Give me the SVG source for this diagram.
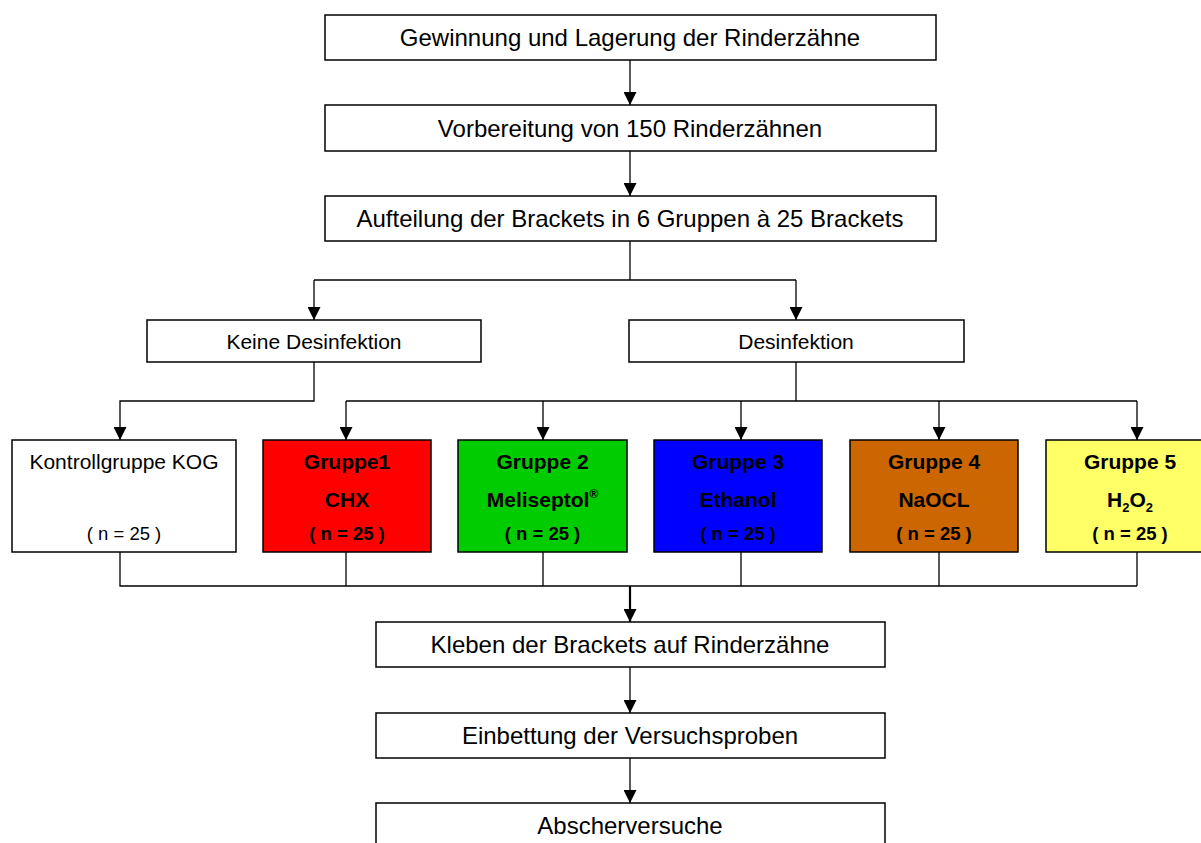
<svg xmlns="http://www.w3.org/2000/svg" width="1201" height="843" viewBox="0 0 1201 843">
<style>
.box{stroke:#000;stroke-width:1.5;fill:#fff}
.t{font-family:"Liberation Sans",Arial,sans-serif;font-size:24px;fill:#000;text-anchor:middle}
.m{font-family:"Liberation Sans",Arial,sans-serif;font-size:21px;fill:#000;text-anchor:middle}
.b{font-family:"Liberation Sans",Arial,sans-serif;font-size:21px;font-weight:bold;fill:#000;text-anchor:middle}
.n{font-family:"Liberation Sans",Arial,sans-serif;font-size:18.5px;fill:#000;text-anchor:middle}
.nb{font-family:"Liberation Sans",Arial,sans-serif;font-size:18.5px;font-weight:bold;fill:#000;text-anchor:middle}
.c{stroke:#000;stroke-width:1.3;fill:none}
</style>
<defs>
<marker id="ah" markerUnits="userSpaceOnUse" markerWidth="13" markerHeight="13" refX="13" refY="6.5" orient="auto">
<path d="M0,0 L13,6.5 L0,13 z" fill="#000"/>
</marker>
</defs>
<rect width="1201" height="843" fill="#fff"/>
<g id="connectors">
<path class="c" d="M630,60 V105" marker-end="url(#ah)"/>
<path class="c" d="M630,151 V196" marker-end="url(#ah)"/>
<path class="c" d="M630,241 V280"/>
<path class="c" d="M314,280 H796"/>
<path class="c" d="M314,280 V320" marker-end="url(#ah)"/>
<path class="c" d="M796,280 V320" marker-end="url(#ah)"/>
<path class="c" d="M314,362 V401 H120 V440" marker-end="url(#ah)"/>
<path class="c" d="M796,362 V401"/>
<path class="c" d="M346,401 H1137"/>
<path class="c" d="M346,401 V440" marker-end="url(#ah)"/>
<path class="c" d="M543,401 V440" marker-end="url(#ah)"/>
<path class="c" d="M741,401 V440" marker-end="url(#ah)"/>
<path class="c" d="M939,401 V440" marker-end="url(#ah)"/>
<path class="c" d="M1137,401 V440" marker-end="url(#ah)"/>
<path class="c" d="M120,552 V586 H1137"/>
<path class="c" d="M346,552 V586 M543,552 V586 M741,552 V586 M939,552 V586 M1137,552 V586"/>
<path d="M630,586 V622" stroke="#000" stroke-width="2.2" fill="none" marker-end="url(#ah)"/>
<path class="c" d="M630,667 V713" marker-end="url(#ah)"/>
<path class="c" d="M630,758 V803" marker-end="url(#ah)"/>
</g>
<g id="gewinnung">
<rect class="box" x="325" y="15" width="611" height="45"/>
<text class="t" x="630" y="46">Gewinnung und Lagerung der Rinderzähne</text>
</g>
<g id="vorbereitung">
<rect class="box" x="325" y="105" width="611" height="46"/>
<text class="t" x="630" y="137">Vorbereitung von 150 Rinderzähnen</text>
</g>
<g id="aufteilung">
<rect class="box" x="325" y="196" width="611" height="45"/>
<text class="t" x="630" y="227">Aufteilung der Brackets in 6 Gruppen à 25 Brackets</text>
</g>
<g id="keine">
<rect class="box" x="147" y="320" width="334" height="42"/>
<text class="m" x="314" y="348.5">Keine Desinfektion</text>
</g>
<g id="desinfektion">
<rect class="box" x="629" y="320" width="335" height="42"/>
<text class="m" x="796" y="348.5">Desinfektion</text>
</g>
<g id="kog">
<rect class="box" x="12" y="440" width="224" height="112"/>
<text class="m" x="124" y="469">Kontrollgruppe KOG</text>
<text class="n" x="124" y="540">( n = 25 )</text>
</g>
<g id="gruppe1">
<rect class="box" x="263" y="440" width="168" height="112" fill="#ff0000" style="fill:#ff0000"/>
<text class="b" x="347" y="469">Gruppe1</text>
<text class="b" x="347" y="507">CHX</text>
<text class="nb" x="347" y="540">( n = 25 )</text>
</g>
<g id="gruppe2">
<rect class="box" x="458" y="440" width="169" height="112" style="fill:#00cc00"/>
<text class="b" x="542.5" y="469">Gruppe 2</text>
<text class="b" x="542.5" y="507">Meliseptol<tspan font-size="12" dy="-9">®</tspan></text>
<text class="nb" x="542.5" y="540">( n = 25 )</text>
</g>
<g id="gruppe3">
<rect class="box" x="654" y="440" width="168" height="112" style="fill:#0000ff"/>
<text class="b" x="738" y="469">Gruppe 3</text>
<text class="b" x="738" y="507">Ethanol</text>
<text class="nb" x="738" y="540">( n = 25 )</text>
</g>
<g id="gruppe4">
<rect class="box" x="850" y="440" width="168" height="112" style="fill:#cc6600"/>
<text class="b" x="934" y="469">Gruppe 4</text>
<text class="b" x="934" y="507">NaOCL</text>
<text class="nb" x="934" y="540">( n = 25 )</text>
</g>
<g id="gruppe5">
<rect class="box" x="1046" y="440" width="168" height="112" style="fill:#ffff66"/>
<text class="b" x="1130" y="469">Gruppe 5</text>
<text class="b" x="1130" y="507">H<tspan font-size="13" dy="5">2</tspan><tspan dy="-5">O</tspan><tspan font-size="13" dy="5">2</tspan></text>
<text class="nb" x="1130" y="540">( n = 25 )</text>
</g>
<g id="kleben">
<rect class="box" x="376" y="622" width="509" height="45"/>
<text class="t" x="630" y="653">Kleben der Brackets auf Rinderzähne</text>
</g>
<g id="einbettung">
<rect class="box" x="376" y="713" width="509" height="45"/>
<text class="t" x="630" y="744">Einbettung der Versuchsproben</text>
</g>
<g id="abscher">
<rect class="box" x="376" y="803" width="509" height="46"/>
<text class="t" x="630" y="834">Abscherversuche</text>
</g>
</svg>
